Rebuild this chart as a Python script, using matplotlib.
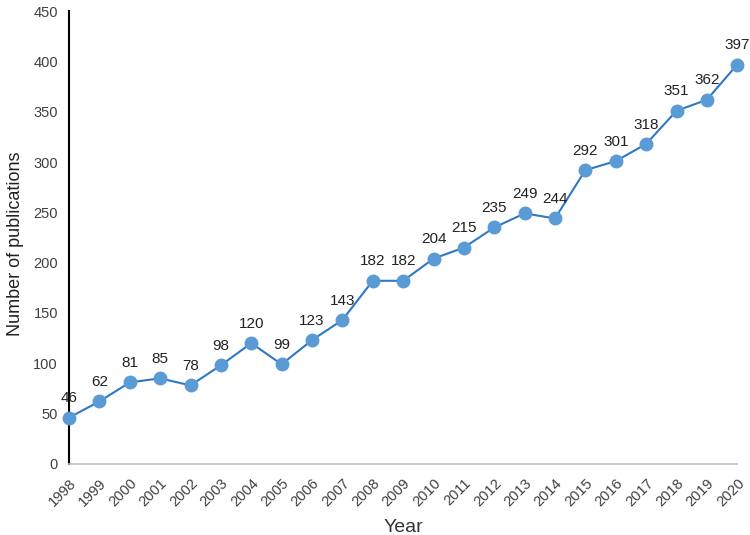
import matplotlib
matplotlib.use("Agg")
import matplotlib.pyplot as plt

plt.rcParams['font.family'] = ['Liberation Sans', 'DejaVu Sans']

years = [str(y) for y in range(1998, 2021)]
counts = [46, 62, 81, 85, 78, 98, 120, 99, 123, 143, 182, 182, 204, 215, 235, 249, 244, 292, 301, 318, 351, 362, 397]

fig = plt.figure(figsize=(7.5, 5.35), dpi=100)
ax = fig.add_axes([0.092, 0.133, 0.891, 0.846])

x = list(range(len(years)))
ax.plot(x, counts, color='#2E78C8', lw=1.5, marker='o', markersize=9,
        markerfacecolor='#5B9BD5', markeredgecolor='#5B9BD5', zorder=3, clip_on=False)
for xi, v in zip(x, counts):
    ax.annotate(str(v), (xi, v), xytext=(0, 9), textcoords='offset points',
                ha='center', va='bottom', fontsize=11, color='#222222')

ax.set_xlim(0, len(years) - 1)
ax.set_ylim(0, 450)
ax.set_yticks(range(0, 451, 50))
ax.set_xticks(x)
ax.set_xticklabels(years, rotation=45, ha='right', rotation_mode='anchor', fontsize=10.5, color='#404040')
ax.tick_params(axis='y', labelsize=10.5, labelcolor='#404040', length=0, pad=8)
ax.tick_params(axis='x', length=0, pad=9)

for s in ['top', 'right']:
    ax.spines[s].set_visible(False)
ax.spines['left'].set_color('black')
ax.spines['left'].set_linewidth(1.5)
ax.spines['bottom'].set_color('#BFBFBF')
ax.spines['bottom'].set_linewidth(1.2)

ax.set_xlabel('Year', fontsize=14, color='#333333', labelpad=7)
ax.set_ylabel('Number of publications', fontsize=13, color='#222222', labelpad=3)
ax.yaxis.set_label_coords(-0.068, 0.486)

fig.savefig('out.png', dpi=100)
